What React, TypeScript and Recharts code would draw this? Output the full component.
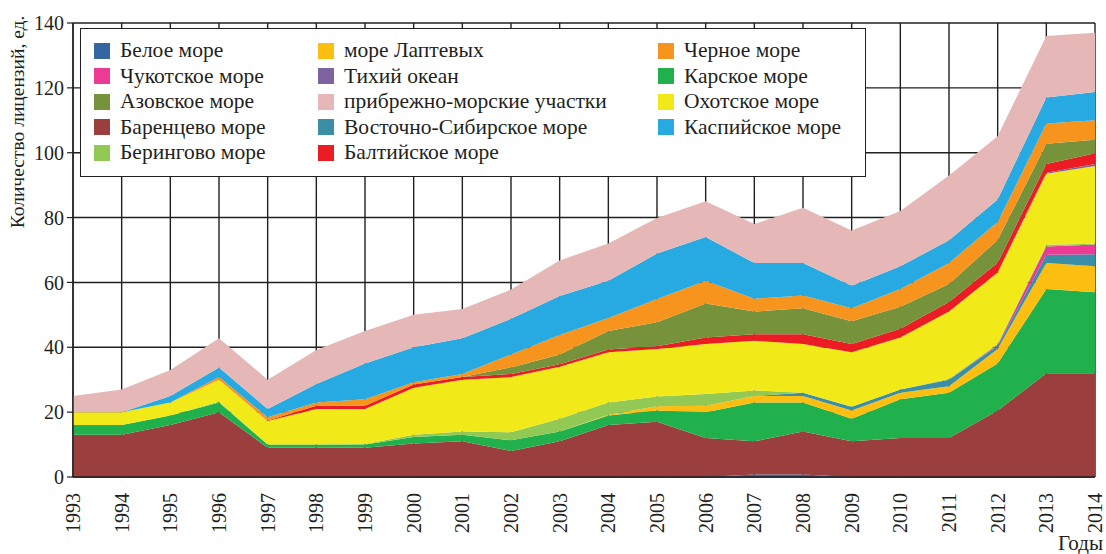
import React from 'react';
import { AreaChart, Area, XAxis, YAxis, CartesianGrid } from 'recharts';

const years = ['1993','1994','1995','1996','1997','1998','1999','2000','2001','2002','2003','2004','2005','2006','2007','2008','2009','2010','2011','2012','2013','2014'];
const yTicks = [0, 20, 40, 60, 80, 100, 120, 140];

// values per series (licences), in stacking order from bottom
const beloe =    [0,0,0,0,0,0,0,0,0,0,0,0,0,0,0.8,0.8,0,0,0,0,0,0];
const barents =  [13,13,16,20,9,9,9,10.3,11,8,11,16,17,12,10.2,13.2,11,12,12,20.5,32,32];
const kara =     [3,3,3,3,1,1,1,2,2,3.3,3,3,3.5,8,12,9,7,12,14,14.5,26,25];
const laptev =   [0,0,0,0,0,0,0,0,0,0,0,0.2,1.3,2,2,2,2.5,2,2,4.5,8,8];
const vostSib =  [0,0,0,0,0,0,0,0,0,0,0,0,0,0,0,1,1.2,1,2,1,2.5,3.7];
const chukot =   [0,0,0,0,0,0,0,0,0,0,0,0,0,0,0,0,0,0,0,0.3,2.6,3];
const bering =   [0,0,0,0.3,0,0,0.2,0.7,1,2.5,4,3.8,3,3.6,1.7,0,0,0,0.3,0.3,0.5,0.2];
const okhotsk =  [4,4,4,6.7,7.3,11,10.8,14.5,16,17,16,15.5,14.7,15.4,15.3,15,16.8,16,20.7,22,21.9,24];
const tikhiy =   [0,0,0,0,0,0,0,0,0,0,0,0,0,0,0,0,0,0,0,0,0.3,0.6];
const baltic =   [0,0,0,0,0.1,1,1,1,0.8,1,0.8,0.8,0.8,2,2,3,2.5,2.7,3,3,2.7,3.3];
const azov =     [0,0,0,0,0,0,0,0,0,2,3,5.7,7.4,10.5,7,8,7,6.8,5.5,7,6.3,4.2];
const chernoe =  [0,0,0,0.8,1,1,2,0.7,1,4,6,4,7.2,7,4,4,4,5.5,6.5,5.5,6.2,6];
const kaspiy =   [0,0,2,3,2.6,5.7,11,10.8,11,11,12,11.5,14,13.5,11,10,7,7,7,7,8,8.7];
const pribrezh = [5,7,8,9,9,10.5,10,10,9,9,11,11.5,11,11,12,17,17,17,20,19.5,19,18.3];

const series = [
  { key: 'beloe', name: 'Белое море', color: '#3466a1', values: beloe },
  { key: 'barents', name: 'Баренцево море', color: '#9b3f3e', values: barents },
  { key: 'kara', name: 'Карское море', color: '#21b14c', values: kara },
  { key: 'laptev', name: 'море Лаптевых', color: '#fdbe12', values: laptev },
  { key: 'vostSib', name: 'Восточно-Сибирское море', color: '#3a8fa6', values: vostSib },
  { key: 'chukot', name: 'Чукотское море', color: '#ec3a95', values: chukot },
  { key: 'bering', name: 'Берингово море', color: '#92c954', values: bering },
  { key: 'okhotsk', name: 'Охотское море', color: '#f2ea18', values: okhotsk },
  { key: 'tikhiy', name: 'Тихий океан', color: '#7d64a1', values: tikhiy },
  { key: 'baltic', name: 'Балтийское море', color: '#ec1c24', values: baltic },
  { key: 'azov', name: 'Азовское море', color: '#76923a', values: azov },
  { key: 'chernoe', name: 'Черное море', color: '#f7941d', values: chernoe },
  { key: 'kaspiy', name: 'Каспийское море', color: '#27aae1', values: kaspiy },
  { key: 'pribrezh', name: 'прибрежно-морские участки', color: '#e5b8b7', values: pribrezh },
];

// legend grid (rows of 3 columns)
const legendOrder = [
  'beloe', 'laptev', 'chernoe',
  'chukot', 'tikhiy', 'kara',
  'azov', 'pribrezh', 'okhotsk',
  'barents', 'vostSib', 'kaspiy',
  'bering', 'baltic',
];

const data = years.map((year, i) => {
  const row: Record<string, string | number> = { year };
  series.forEach((s) => { row[s.key] = s.values[i]; });
  return row;
});

const FONT = '"Liberation Serif", "Times New Roman", serif';
const INK = '#231f20';

const XTick = (props: any) => {
  const { x, y, payload } = props;
  return (
    <text
      x={x}
      y={y}
      transform={`rotate(-90 ${x} ${y})`}
      textAnchor="end"
      dominantBaseline="central"
      dx={-4}
      dy={0}
      fontFamily={FONT}
      fontSize={20}
      fill={INK}
    >
      {payload.value}
    </text>
  );
};

const LegendBox = () => {
  const colLeft = [13, 237, 577];
  return (
    <div
      style={{
        position: 'absolute',
        left: 80,
        top: 28,
        width: 786,
        height: 149,
        boxSizing: 'border-box',
        border: `1.5px solid ${INK}`,
        background: '#fff',
        fontFamily: FONT,
        fontSize: 21.5,
        color: INK,
      }}
    >
      {legendOrder.map((k, idx) => {
        const s = series.find((d) => d.key === k)!;
        const r = Math.floor(idx / 3);
        const c = idx % 3;
        return (
          <div
            key={k}
            style={{
              position: 'absolute',
              left: colLeft[c],
              top: 9 + r * 25.5,
              height: 25.5,
              display: 'flex',
              alignItems: 'center',
              whiteSpace: 'nowrap',
            }}
          >
            <span style={{ display: 'inline-block', width: 16, height: 16, background: s.color, marginRight: 10 }} />
            <span>{s.name}</span>
          </div>
        );
      })}
    </div>
  );
};

export default function App() {
  return (
    <div style={{ position: 'absolute', left: 0, top: 0, width: 1106, height: 554 }}>
      <AreaChart
        width={1106}
        height={554}
        data={data}
        margin={{ top: 23, right: 11, bottom: 0, left: 0 }}
      >
        {series.map((s) => (
          <Area
            key={s.key}
            dataKey={s.key}
            name={s.name}
            stackId="a"
            type="linear"
            stroke="none"
            fill={s.color}
            fillOpacity={1}
            isAnimationActive={false}
            dot={false}
            activeDot={false}
          />
        ))}
        <CartesianGrid stroke={INK} strokeWidth={1.4} strokeOpacity={1} />
        <XAxis
          dataKey="year"
          interval={0}
          height={77}
          tickLine={false}
          axisLine={{ stroke: INK, strokeWidth: 1.4 }}
          tick={<XTick />}
          tickMargin={6}
          label={{
            content: () => (
              <text x={1103} y={550} textAnchor="end" fontFamily={FONT} fontSize={21} fill={INK}>Годы</text>
            ),
          }}
        />
        <YAxis
          width={73}
          domain={[0, 140]}
          ticks={yTicks}
          interval={0}
          tickSize={6}
          tickMargin={3}
          tickLine={{ stroke: INK, strokeWidth: 1.2 }}
          axisLine={{ stroke: INK, strokeWidth: 1.4 }}
          tick={{ fontFamily: FONT, fontSize: 20, fill: INK }}
          label={{
            content: () => (
              <text
                x={17}
                y={122}
                transform="rotate(-90 17 122)"
                textAnchor="middle"
                dominantBaseline="central"
                fontFamily={FONT}
                fontSize={19.5}
                fill={INK}
              >
                Количество лицензий, ед.
              </text>
            ),
          }}
        />
      </AreaChart>
      <LegendBox />
    </div>
  );
}
